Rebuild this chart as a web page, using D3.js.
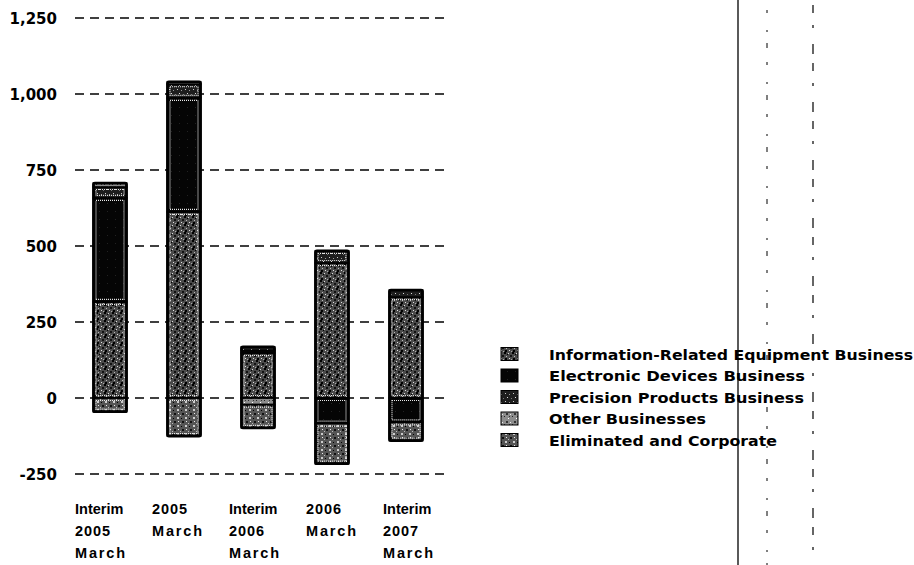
<!DOCTYPE html>
<html>
<head>
<meta charset="utf-8">
<script src="https://cdn.jsdelivr.net/npm/d3@7"></script>
<style>
  html, body { margin: 0; padding: 0; background: #fff; }
  svg { display: block; }
</style>
</head>
<body>
<div id="chart"></div>
<script>
// ---- data ----
const categories = ["Interim 2005 March", "2005 March", "Interim 2006 March", "2006 March", "Interim 2007 March"];
const categoryLines = [["Interim", "2005", "March"], ["2005", "March"], ["Interim", "2006", "March"], ["2006", "March"], ["Interim", "2007", "March"]];
const seriesNames = ["Information-Related Equipment Business", "Electronic Devices Business", "Precision Products Business", "Other Businesses", "Eliminated and Corporate"];
const infoRelated = [316, 612, 148, 444, 332];
const electronicDevices = [342, 375, 8, -84, -80];
const precisionProducts = [36, 45, 12, 40, 23];
const otherBusinesses = [13, 8, -22, 0, 0];
const eliminatedCorporate = [-45, -125, -76, -132, -60];
const yTicks = [-250, 0, 250, 500, 750, 1000, 1250];
const yTickLabels = ["-250", "0", "250", "500", "750", "1,000", "1,250"];

const seriesValues = [infoRelated, electronicDevices, precisionProducts, otherBusinesses, eliminatedCorporate];
const rows = categories.map((c, i) => {
  const r = { category: c };
  seriesNames.forEach((s, k) => r[s] = seriesValues[k][i]);
  return r;
});

const W = 914, H = 565;
const svg = d3.select("#chart").append("svg").attr("width", W).attr("height", H);
const defs = svg.append("defs");

// speckle patterns (fixed dot layouts)
function makePattern(id, base, dots) {
  const p = defs.append("pattern").attr("id", id).attr("patternUnits", "userSpaceOnUse")
    .attr("width", 8).attr("height", 8);
  p.append("rect").attr("width", 8).attr("height", 8).attr("fill", base);
  dots.forEach(d => p.append("rect").attr("x", d[0]).attr("y", d[1]).attr("width", d[2]).attr("height", d[2]).attr("fill", d[3]));
}
makePattern("pInfo", "#4a4a4a", [[0,0,2,"#000"],[4,1,1,"#ddd"],[6,3,2,"#111"],[2,4,1,"#bbb"],[1,6,2,"#000"],[5,6,1,"#e0e0e0"],[3,2,1,"#000"],[7,7,1,"#aaa"]]);
makePattern("pElec", "#050505", [[3,3,1,"#222"]]);
makePattern("pPrec", "#1e1e1e", [[1,1,1,"#ccc"],[5,2,1,"#999"],[3,5,1,"#ddd"],[7,6,1,"#777"]]);
makePattern("pOther", "#8c8c8c", [[0,0,1,"#222"],[4,2,1,"#fff"],[2,5,2,"#333"],[6,6,1,"#eee"],[5,0,1,"#333"]]);
makePattern("pElim", "#555", [[1,1,2,"#ccc"],[5,2,1,"#000"],[2,5,1,"#eee"],[6,5,2,"#111"],[4,7,1,"#bbb"]]);
const fills = ["url(#pInfo)", "url(#pElec)", "url(#pPrec)", "url(#pOther)", "url(#pElim)"];

// scales
const y = d3.scaleLinear().domain([-250, 1250]).range([474, 18]);
const xc = d3.scalePoint().domain(categories).range([110, 406]);
const xl = d3.scalePoint().domain(categories).range([75, 383]);
const barW = 33;

// gridlines
const grid = svg.append("g");
grid.selectAll("line").data(yTicks).join("line")
  .attr("x1", 75).attr("x2", 446)
  .attr("y1", d => y(d)).attr("y2", d => y(d))
  .attr("stroke", "#000").attr("stroke-width", 1.6)
  .attr("stroke-dasharray", "9,6");

// y tick labels
svg.append("g").selectAll("text").data(yTicks).join("text")
  .attr("x", 57).attr("y", d => y(d) + 5.5)
  .attr("text-anchor", "end")
  .attr("font-family", "DejaVu Sans, sans-serif")
  .attr("font-weight", "bold").attr("font-size", 15)
  .text((d, i) => yTickLabels[i]);

// stacked bars
const stacked = d3.stack().keys(seriesNames).offset(d3.stackOffsetDiverging)(rows);
const bars = svg.append("g");
stacked.forEach((s, k) => {
  const g = bars.append("g");
  s.forEach(d => {
    const y0 = y(Math.max(d[0], d[1])), y1 = y(Math.min(d[0], d[1]));
    const h = y1 - y0;
    if (h < 0.5) return;
    const x0 = xc(d.data.category) - barW / 2;
    g.append("rect").attr("x", x0).attr("y", y0).attr("width", barW).attr("height", h)
      .attr("fill", fills[k]).attr("stroke", "#000").attr("stroke-width", 1.8);
    if (h > 7) {
      g.append("rect").attr("x", x0 + 2.5).attr("y", y0 + 2.5).attr("width", barW - 5).attr("height", h - 5)
        .attr("fill", "none").attr("stroke", "#e8e8e8").attr("stroke-width", 1.2).attr("stroke-dasharray", "1,1");
    }
  });
});
// outer frame per bar
rows.forEach(r => {
  let pos = 0, neg = 0;
  seriesNames.forEach(s => { if (r[s] > 0) pos += r[s]; else neg += r[s]; });
  bars.append("rect").attr("x", xc(r.category) - barW / 2).attr("y", y(pos))
    .attr("width", barW).attr("height", y(neg) - y(pos))
    .attr("fill", "none").attr("stroke", "#000").attr("stroke-width", 2.8).attr("rx", 1.5);
});

// x labels
const xlab = svg.append("g").attr("font-family", "Liberation Sans, Arial, sans-serif")
  .attr("font-weight", "bold").attr("font-size", 14.5);
categories.forEach((c, i) => {
  categoryLines[i].forEach((t, j) => {
    const tx = xlab.append("text").attr("x", xl(c)).attr("y", 514 + j * 22).text(t);
    if (t === "March") tx.attr("textLength", 50).attr("lengthAdjust", "spacing");
    if (/^\d+$/.test(t)) tx.attr("textLength", 35).attr("lengthAdjust", "spacing");
  });
});

// legend
const legend = svg.append("g");
const legendWidths = [364, 256, 255, 157, 228];
seriesNames.forEach((s, k) => {
  const cy = 354 + k * 21.5;
  legend.append("rect").attr("x", 501).attr("y", cy - 6.5).attr("width", 17).attr("height", 13)
    .attr("fill", fills[k]).attr("stroke", "#000").attr("stroke-width", 1);
  legend.append("text").attr("x", 549).attr("y", cy + 5.5)
    .attr("font-family", "DejaVu Sans, sans-serif")
    .attr("font-weight", "bold").attr("font-size", 14.5)
    .attr("textLength", legendWidths[k]).attr("lengthAdjust", "spacingAndGlyphs")
    .text(s);
});

// page edge lines (scan)
svg.append("line").attr("x1", 738).attr("x2", 738).attr("y1", 0).attr("y2", 565)
  .attr("stroke", "#000").attr("stroke-width", 1.3);
svg.append("line").attr("x1", 767).attr("x2", 767).attr("y1", 10).attr("y2", 565)
  .attr("stroke", "#000").attr("stroke-width", 1).attr("stroke-dasharray", "3,17,2,11,5,14");
svg.append("line").attr("x1", 813).attr("x2", 813).attr("y1", 5).attr("y2", 565)
  .attr("stroke", "#000").attr("stroke-width", 1.2).attr("stroke-dasharray", "8,12,3,16,10,9");
</script>
</body>
</html>
